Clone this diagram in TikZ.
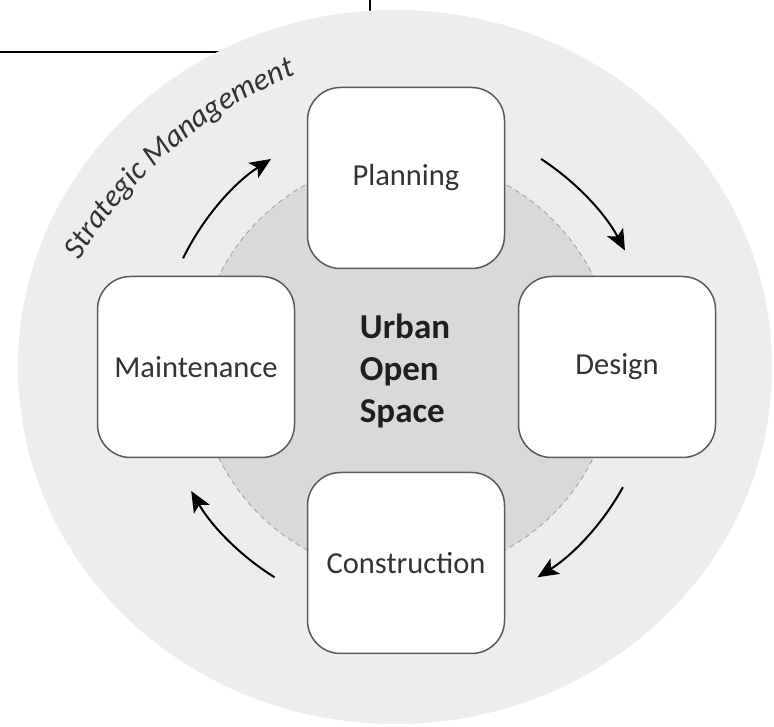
\documentclass[tikz,border=0pt]{standalone}
\usepackage{fontspec}
\setmainfont{Carlito}
\usetikzlibrary{arrows.meta,decorations.text}

\definecolor{outerring}{HTML}{EDEDED}
\definecolor{innercore}{HTML}{D9D9D9}
\definecolor{boxline}{HTML}{595959}
\definecolor{labeltext}{HTML}{333333}
\newcommand\stratfont{\itshape\fontsize{31pt}{36pt}\selectfont}

\begin{document}
\begin{tikzpicture}[x=1pt,y=1pt,
  stage/.style={draw=boxline, line width=1.5pt, fill=white, rounded corners=33pt,
    minimum width=197pt, minimum height=181pt, text=labeltext,
    font=\fontsize{30.5pt}{36pt}\selectfont},
  turn/.style={line width=2pt, -{Stealth[length=21pt,width=18pt,inset=5pt]}}]
\useasboundingbox (0,0) rectangle (774,727);
\fill[white] (0,0) rectangle (774,727);
\coordinate (hub) at (406,360);
\coordinate (bend) at (465,235);
% page rules behind the disc
\draw[line width=1.5pt] (0,675) -- (260,675);
\draw[line width=1.5pt] (370,727) -- (370,690);
\fill[outerring] (395,360) ellipse[x radius=377, y radius=357];
\filldraw[fill=innercore, draw=gray!75, dash pattern=on 5pt off 4pt, line width=0.8pt] (hub) circle[radius=208];
\path[decorate, decoration={text along path, text align=left, text color=black!80,
  text={|\stratfont|Strategic Management}}]
  ([shift={(149:450)}]bend) arc[start angle=149, end angle=108, radius=450];
\node[stage] (plan) at (406,549) {Planning};
\node[stage] (design) at (617,360) {Design};
\node[stage] (build) at (406,164) {Construction};
\node[stage] (care) at (196,360) {Maintenance};
\node[align=left, font=\bfseries\fontsize{35pt}{42pt}\selectfont, text=black!88] (core) at (405,356) {Urban\\Open\\Space};
\foreach \from/\to in {154/123, 57/28, -29/-58, 238/210}
  \draw[turn] ([shift={(\from:248)}]hub) arc[start angle=\from, end angle=\to, radius=248];
\end{tikzpicture}
\end{document}
